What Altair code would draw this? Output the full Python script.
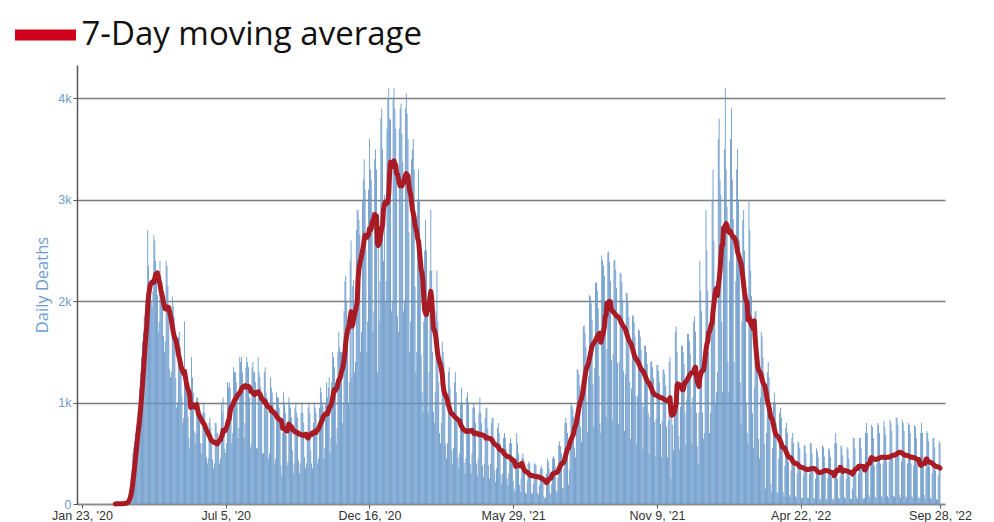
import altair as alt
import pandas as pd

# Daily US COVID-19 deaths (Mar 1, 2020 .. Sep 28, 2022)
deaths_2020 = [
    1, 2, 1, 3, 2, 3, 4,
    3, 5, 6, 7, 9, 12, 14,
    40, 70, 110, 170, 250, 330, 500,
    560, 620, 700, 780, 850, 920, 960,
    1150, 1300, 1450, 1600, 1700, 1850, 1870,
    1900, 2050, 2700, 2350, 2100, 2150, 2010,
    1950, 2100, 2650, 2600, 2400, 2200, 2060,
    1700, 1800, 2400, 2200, 2150, 1950, 1660,
    1500, 1600, 2400, 2350, 2150, 1900, 1330,
    1250, 1300, 2050, 1950, 1850, 1700, 1240,
    950, 1000, 1650, 1700, 1550, 1400, 1060,
    800, 850, 1800, 1300, 1200, 1100, 860,
    650, 550, 1000, 1450, 1250, 1100, 720,
    600, 700, 1050, 1050, 1000, 950, 600,
    500, 600, 900, 1000, 900, 750, 460,
    400, 450, 800, 850, 750, 650, 440,
    350, 400, 800, 800, 700, 700, 590,
    400, 450, 1000, 900, 1050, 700, 540,
    500, 600, 1200, 1150, 1200, 1150, 850,
    600, 700, 1350, 1300, 1300, 1200, 1040,
    650, 750, 1450, 1400, 1450, 1300, 1120,
    650, 800, 1350, 1450, 1400, 1350, 1050,
    550, 600, 1350, 1400, 1300, 1300, 1200,
    550, 550, 1450, 1300, 1250, 1150, 1030,
    500, 500, 1300, 1350, 1100, 1050, 920,
    450, 500, 1250, 1150, 1100, 1000, 850,
    400, 450, 1100, 1050, 1050, 950, 810,
    380, 280, 700, 1100, 1000, 900, 680,
    380, 420, 1050, 1000, 950, 850, 530,
    300, 400, 950, 1000, 900, 850, 430,
    300, 400, 900, 1000, 900, 800, 460,
    350, 400, 700, 950, 1000, 900, 530,
    400, 350, 800, 1000, 950, 900, 710,
    400, 450, 950, 1150, 1100, 1000, 970,
    450, 550, 1000, 1200, 1050, 1150, 1250,
    500, 650, 1200, 1500, 1450, 1350, 1190,
    600, 750, 1500, 1700, 1550, 1500, 1500,
    800, 1000, 1900, 2200, 2250, 2000, 1820,
    1000, 1200, 2400, 2600, 1250, 2150, 2210,
    1300, 1400, 2700, 2900, 2900, 2800, 2660,
    1500, 1700, 3000, 3200, 3400, 3100, 2510,
    1500, 1800, 3100, 3600, 3300, 3200, 2890,
    1700, 1900, 3400, 3500, 3300, 1300, 2750,
    1800, 2200, 3800, 3900, 3500,
]

deaths_2021 = [
    2400, 3050,
    2000, 2200, 3700, 4000, 4100, 3800, 3790,
    1900, 2000, 4000, 4100, 3900, 3700, 3220,
    1850, 1700, 3700, 3900, 3950, 3650, 3370,
    1900, 2000, 3900, 4050, 3850, 3600, 2680,
    1500, 1800, 3400, 3500, 3600, 3300, 2140,
    1300, 1500, 3000, 3300, 3000, 2600, 1470,
    1100, 900, 1800, 2500, 2800, 2500, 1980,
    900, 1300, 2300, 2900, 2300, 1500, 910,
    800, 1100, 1900, 2300, 1800, 1200, 700,
    600, 800, 1600, 1500, 1400, 1000, 590,
    450, 600, 1300, 1350, 1150, 850, 530,
    400, 550, 1200, 1300, 1100, 800, 460,
    350, 500, 1000, 1150, 1000, 700, 410,
    300, 450, 1050, 1100, 1000, 750, 390,
    300, 500, 950, 1000, 950, 800, 400,
    280, 450, 900, 1050, 900, 800, 380,
    270, 400, 850, 950, 950, 750, 380,
    250, 400, 800, 850, 850, 650, 330,
    220, 350, 750, 800, 700, 600, 290,
    200, 300, 650, 700, 650, 540, 250,
    180, 300, 600, 650, 600, 450, 230,
    150, 120, 400, 700, 600, 500, 190,
    120, 250, 450, 500, 450, 360, 110,
    100, 230, 400, 420, 400, 300, 110,
    100, 200, 400, 400, 380, 300, 110,
    90, 180, 350, 380, 350, 250, 80,
    60, 60, 300, 450, 420, 350, 110,
    100, 200, 450, 470, 450, 370, 130,
    120, 260, 580, 620, 570, 500, 150,
    160, 350, 800, 850, 800, 700, 190,
    340, 600, 980, 975, 940, 860, 555,
    460, 820, 1330, 1320, 1280, 1170, 760,
    610, 1080, 1750, 1760, 1690, 1550, 1010,
    710, 1260, 2060, 2050, 1980, 1820, 1180,
    760, 1340, 2180, 2190, 2100, 1930, 1260,
    800, 700, 2450, 2400, 2350, 2250, 2000,
    860, 1530, 2480, 2490, 2390, 2200, 1420,
    830, 1480, 2400, 2410, 2310, 2130, 1390,
    790, 1400, 2280, 2270, 2190, 2010, 1310,
    720, 1280, 2080, 2080, 2000, 1840, 1200,
    640, 1140, 1860, 1860, 1790, 1650, 1070,
    590, 1060, 1720, 1710, 1650, 1520, 990,
    540, 960, 1560, 1560, 1500, 1380, 900,
    490, 860, 1400, 1410, 1350, 1240, 810,
    470, 840, 1370, 1370, 1310, 1200, 790,
    460, 820, 1330, 1320, 1280, 1170, 760,
    460, 820, 1400, 1450, 250, 1000, 780,
    530, 940, 1700, 1750, 1500, 1100, 670,
    540, 960, 1560, 1560, 1500, 1380, 900,
    580, 1030, 1680, 1680, 1610, 1480, 970,
    600, 1050, 1800, 1850, 1700, 900, 570,
    400, 900, 2400, 2100, 1900, 900,
]

deaths_2022 = [
    640,
    700, 1500, 2900, 2500, 2100, 1500, 700,
    900, 1800, 3000, 3300, 2600, 2100, 1000,
    1100, 1300, 3600, 3800, 3200, 3050, 1800,
    1100, 2500, 3500, 4100, 3300, 2930, 1400,
    1100, 2400, 3600, 3900, 3200, 2810, 1400,
    1000, 2200, 3300, 3500, 3000, 2600, 1200,
    800, 1800, 2800, 2900, 2500, 2200, 1000,
    700, 600, 3000, 2700, 2300, 2050, 900,
    550, 1150, 1900, 1900, 1650, 1450, 640,
    450, 1050, 1700, 1650, 1450, 1300, 590,
    150, 700, 1300, 1400, 1250, 950, 200,
    120, 550, 1000, 1100, 1000, 800, 120,
    100, 450, 900, 950, 850, 550, 120,
    80, 380, 750, 800, 700, 420, 90,
    70, 330, 650, 700, 600, 370, 80,
    60, 300, 620, 600, 550, 330, 60,
    60, 280, 580, 580, 500, 320, 60,
    60, 300, 600, 600, 500, 330, 60,
    50, 250, 550, 520, 460, 290, 50,
    50, 280, 580, 560, 470, 320, 50,
    50, 260, 550, 530, 460, 270, 50,
    40, 60, 600, 700, 600, 250, 60,
    50, 270, 580, 560, 480, 300, 70,
    50, 250, 560, 540, 450, 270, 50,
    50, 150, 650, 650, 550, 330, 70,
    50, 300, 650, 650, 550, 330, 60,
    50, 60, 700, 800, 700, 400, 90,
    60, 380, 780, 760, 650, 380, 70,
    60, 400, 800, 780, 700, 400, 80,
    60, 400, 820, 760, 680, 420, 80,
    60, 420, 830, 800, 720, 450, 80,
    70, 450, 850, 850, 780, 480, 90,
    60, 420, 830, 800, 720, 450, 80,
    60, 400, 800, 780, 700, 400, 80,
    60, 380, 780, 760, 650, 380, 70,
    50, 60, 700, 800, 700, 400, 90,
    50, 350, 720, 700, 620, 370, 60,
    50, 300, 650, 650, 560, 330, 50,
    40, 280, 620, 600,
]

first_day = "2020-03-01"
x_tick_dates = ["2020-01-23", "2020-07-05", "2020-12-16", "2021-05-29",
                "2021-11-09", "2022-04-22", "2022-09-28"]
y_ticks = [0, 1000, 2000, 3000, 4000]
series_name = "7-Day moving average"

bar_blue = "#6696c8"
line_red = "#a91b24"
swatch_red = "#d0021b"
label_blue = "#6f9bd0"

daily = deaths_2020 + deaths_2021 + deaths_2022
dates = pd.date_range(first_day, periods=len(daily), freq="D").strftime("%Y-%m-%d")
df = pd.DataFrame({"date": list(dates), "deaths": daily})


def dt(s):
    y, m, d = (int(p) for p in s.split("-"))
    return alt.DateTime(year=y, month=m, date=d, utc=True)


x_scale = alt.Scale(type="utc", domain=[dt(x_tick_dates[0]), dt(x_tick_dates[-1])])
y_scale = alt.Scale(domain=[0, 4330], nice=False)

x_axis = alt.Axis(
    values=[dt(s) for s in x_tick_dates],
    labelExpr='utcFormat(datum.value, "%b %-d, \'%y")',
    title=None, grid=False,
    domainColor="#8a8a8a", domainWidth=1.5,
    tickColor="#555555", tickSize=4,
    labelColor="#333333", labelFont="Liberation Sans", labelFontSize=12.5,
    labelPadding=1, labelOverlap=False, labelFlush=False,
)
y_axis = alt.Axis(
    values=y_ticks,
    labelExpr="datum.value == 0 ? '0' : (datum.value / 1000) + 'k'",
    title="Daily Deaths", titleFont="Open Sans", titleFontSize=16.5,
    titleFontWeight="normal", titleColor=label_blue, titlePadding=7,
    grid=True, gridColor="#7c7c7c", gridWidth=1.5,
    domainColor="#555555", domainWidth=1.5,
    tickColor="#555555", tickSize=4,
    labelColor=label_blue, labelFont="Liberation Sans", labelFontSize=12.5,
    labelPadding=2,
)

bars = alt.Chart(df).mark_bar(color=bar_blue, width=0.85).encode(
    x=alt.X("date:T", scale=x_scale, axis=x_axis),
    y=alt.Y("deaths:Q", scale=y_scale, axis=y_axis),
)

ma_base = alt.Chart(df).transform_window(
    ma="mean(deaths)", frame=[-6, 0], sort=[alt.SortField("date")]
)

line = ma_base.mark_line(
    color=line_red, strokeWidth=5, strokeJoin="round", strokeCap="round"
).encode(
    x=alt.X("date:T", scale=x_scale),
    y=alt.Y("ma:Q", scale=y_scale),
)

# empty layer that only carries the legend entry
legend_layer = ma_base.transform_filter("false").transform_calculate(
    series=f"'{series_name}'"
).mark_line().encode(
    x=alt.X("date:T", scale=x_scale),
    y=alt.Y("ma:Q", scale=y_scale),
    color=alt.Color(
        "series:N",
        scale=alt.Scale(domain=[series_name], range=[swatch_red]),
        legend=alt.Legend(
            title=None, orient="none", legendX=-67.5, legendY=-66,
            symbolType="stroke", symbolSize=3720, symbolStrokeWidth=11,
            labelFont="Open Sans", labelFontSize=33, labelColor="#111111",
            labelOffset=0, padding=0, labelLimit=600,
        ),
    ),
)

chart = alt.layer(bars, line, legend_layer).properties(
    width=868, height=439,
    autosize=alt.AutoSizeParams(type="none"),
    padding={"left": 69, "top": 57, "right": 40, "bottom": 18},
).configure_view(stroke=None)

chart.save("out.html", embed_options={"renderer": "svg", "actions": False})
